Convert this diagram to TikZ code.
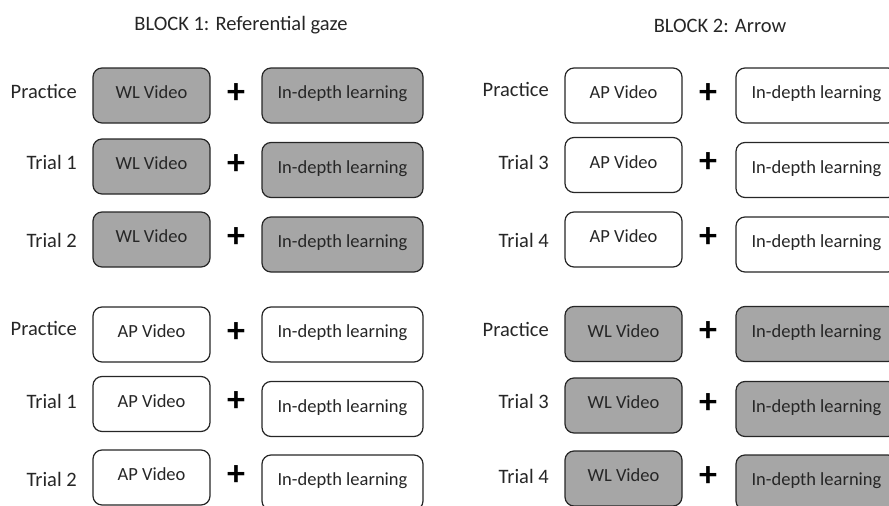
\documentclass[tikz,border=0pt]{standalone}
\usepackage{fontspec}
\setmainfont{Carlito}
\usepackage{xcolor}
\usepackage{tikz}

\definecolor{wlgray}{RGB}{166,166,166}
\definecolor{ink}{RGB}{38,38,38}

\tikzset{
    card/.style={draw=black!85, line width=1.2pt, rounded corners=9pt, text=ink,
        minimum height=55pt, text height=0.65em, text depth=0pt,
        font=\fontsize{18.5}{20}\selectfont},
    vidcard/.style={card, minimum width=117pt},
    learncard/.style={card, minimum width=161pt},
    wl/.style={fill=wlgray},
    ap/.style={fill=white},
    rowlabel/.style={anchor=east, inner sep=0pt, text=ink, text height=0.65em,
        text depth=0pt, font=\fontsize{20.5}{22}\selectfont},
    blocktitle/.style={text=ink, font=\fontsize{20.5}{22}\selectfont},
    plussign/.style={inner sep=0pt, font=\bfseries\fontsize{36}{38}\selectfont}
}

\begin{document}
\begin{tikzpicture}[x=1pt, y=-1pt]
        \useasboundingbox (0, 0) rectangle (889, 506);
        \clip (0, 0) rectangle (889, 506);

        \node[blocktitle] (title1) at (241, 25) {BLOCK 1: Referential gaze};
        \node[blocktitle] (title2) at (720, 26) {BLOCK 2: Arrow};

        % name / label / label x, y / video x, y / learning x, y / fill / video
        \foreach \n/\lab/\lx/\ly/\vx/\vy/\ix/\iy/\kind/\vid in {
                a1/Practice/77/95/151.5/95.5/342.5/95.5/wl/WL Video,
                a2/Trial 1/77/166.5/151.5/166.5/342.5/170/wl/WL Video,
                a3/Trial 2/77/244.5/151.5/239.5/342.5/244.5/wl/WL Video,
                a4/Practice/77/332/151.5/334.5/342.5/334.5/ap/AP Video,
                a5/Trial 1/77/405/151.5/404/342.5/409/ap/AP Video,
                a6/Trial 2/77/483.5/151.5/477.5/342.5/482.5/ap/AP Video,
                b1/Practice/549/93.5/623.5/95.5/816.5/95.5/ap/AP Video,
                b2/Trial 3/549/166/623.5/165/816.5/170/ap/AP Video,
                b3/Trial 4/549/244.5/623.5/239.5/816.5/244.5/ap/AP Video,
                b4/Practice/549/333.5/623.5/334/816.5/334/wl/WL Video,
                b5/Trial 3/549/405.5/623.5/405.5/816.5/409/wl/WL Video,
                b6/Trial 4/549/480.5/623.5/478.5/816.5/482.5/wl/WL Video} {
            \node[rowlabel] (lab\n) at (\lx, \ly) {\lab};
            \node[vidcard, \kind] (vid\n) at (\vx, \vy) {\vid};
            \node[learncard, \kind] (learn\n) at (\ix, \iy) {In-depth learning};
            \node[plussign] (plus\n) at (\vx + 84.5, \vy - 2) {+};
        }
    \end{tikzpicture}
\end{document}
